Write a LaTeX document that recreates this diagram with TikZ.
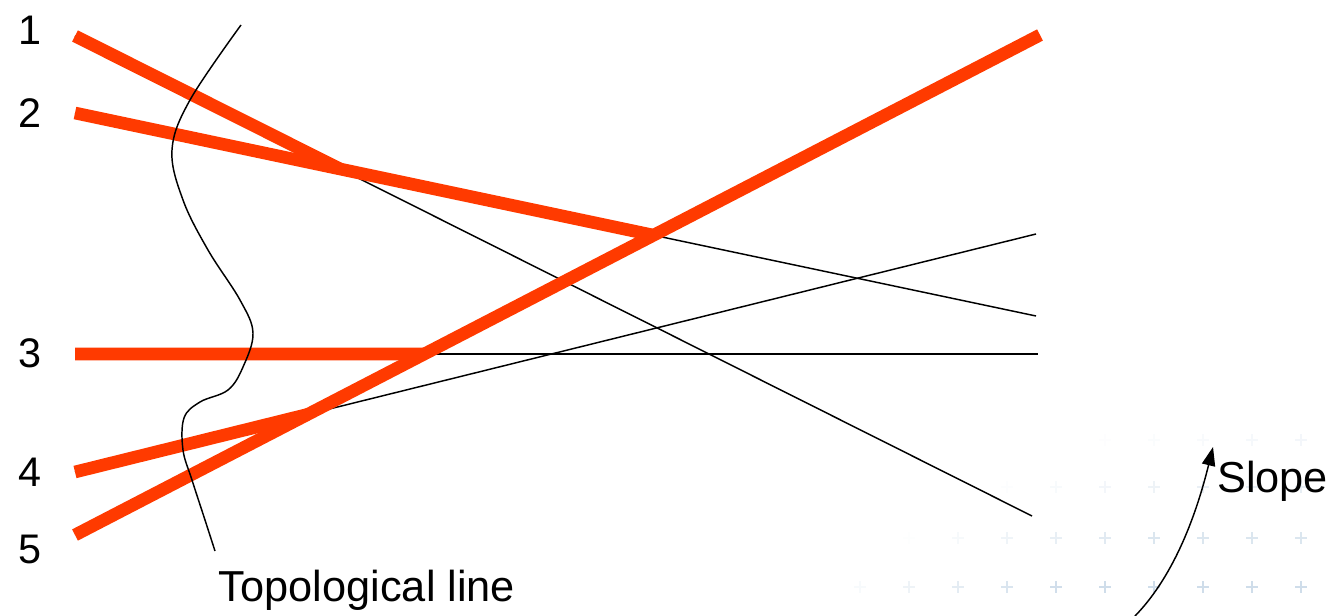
\documentclass[tikz,border=0pt]{standalone}
\usepackage{fontspec}
\setmainfont{Liberation Sans}
\usetikzlibrary{arrows.meta,calc}
\definecolor{dualred}{HTML}{FF3A00}
\definecolor{bgplus}{HTML}{CFDDEA}

\begin{document}
\begin{tikzpicture}[
x=0.75pt,y=-0.75pt,
num/.style={font=\fontsize{31}{33}\selectfont,inner sep=0pt},
lbl/.style={font=\fontsize{32.5}{35}\selectfont,inner sep=0pt},
thin line/.style={line width=1.1pt},
ray/.style={line width=9.5pt,draw=dualred},
arr/.style={-{Triangle[length=14pt,width=10pt]},line width=1.1pt}
]
\useasboundingbox (0,0) rectangle (1330,616);

% faint background pattern
\foreach \r/\y in {0/440,1/487,2/538,3/587}
  \foreach \c in {0,...,9}{
    \pgfmathsetmacro{\op}{max(0,min(1,(\c-4+\r*1.6)/5))*(0.25+0.25*\r)}
    \draw[bgplus,line width=0.9pt,opacity=\op]
      ({860+49*\c-6},\y) -- ++(12,0) ({860+49*\c},\y-6) -- ++(0,12);
  }

% end points of the lines
\coordinate (s1) at (75,36);   \coordinate (e1) at (1032,516);
\coordinate (s2) at (75,113);  \coordinate (e2) at (1036,316);
\coordinate (s3) at (75,354);  \coordinate (e3) at (1038,354);
\coordinate (s4) at (75,472);  \coordinate (e4) at (1036,234);
\coordinate (s5) at (75,535);  \coordinate (e5) at (1040,35);

\coordinate (x12) at (intersection of s1--e1 and s2--e2);
\coordinate (x25) at (intersection of s2--e2 and s5--e5);
\coordinate (x35) at (intersection of s3--e3 and s5--e5);
\coordinate (x45) at (intersection of s4--e4 and s5--e5);

\node[num] (n1) at (30,30)  {1};
\node[num] (n2) at (30,113) {2};
\node[num] (n3) at (30,353) {3};
\node[num] (n4) at (30,472) {4};
\node[num] (n5) at (30,549) {5};

% thin lines
\foreach \i in {1,...,4}
  \draw[thin line] (s\i) -- (e\i);

% thick parts
\draw[ray] (s1) -- (x12);
\draw[ray] (s2) -- (x25);
\draw[ray] (s3) -- (x35);
\draw[ray] (s4) -- (x45);
\draw[ray] (s5) -- (e5);

% topological line
\draw[line width=1.1pt] plot[smooth,tension=0.6] coordinates {
  (241,25) (190,100) (172,150) (183,200) (208,250) (240,300) (253,333)
  (243,367) (228,390) (200,402) (184,418) (183,450) (192,480) (205,520) (215,551)};
\node[lbl] (topo) at (367,590) {Topological line};

% slope
\coordinate (sl0) at (1135,616);
\node[lbl,anchor=west] (slope) at (1217,481) {Slope};
\draw[arr] (sl0) .. controls (1172,578) and (1195,520) .. (1213,447);
\end{tikzpicture}
\end{document}
